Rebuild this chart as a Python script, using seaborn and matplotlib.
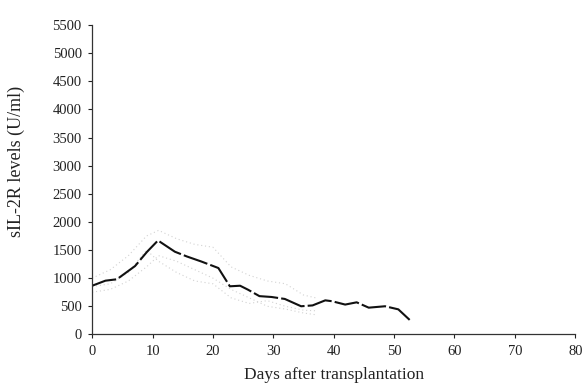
import pandas as pd
import matplotlib
matplotlib.use("Agg")
import matplotlib.pyplot as plt
import seaborn as sns

# media de sIL-2R (linea principal)
dias = [0, 2.2, 4.1, 7.1, 9.1, 10.9, 13.7, 15.7, 18.1, 20.9, 22.8, 24.5, 25.8, 27.7,
        29.7, 31.9, 34.6, 36.5, 38.6, 39.7, 41.9, 43.8, 45.8, 48.5, 50.7, 52.6]
media = [865, 955, 980, 1215, 1470, 1670, 1470, 1385, 1295, 1180, 855, 865, 795, 680,
         665, 630, 500, 515, 605, 590, 530, 570, 475, 500, 445, 255]

# valores individuales aproximados (nube gris tenue)
dias_ind = [0, 3, 6, 9, 11, 14, 17, 20, 23, 26, 29, 32, 35, 37]
paciente_a = [1000, 1150, 1400, 1750, 1850, 1700, 1600, 1550, 1200, 1050, 950, 900, 700, 650]
paciente_b = [750, 800, 950, 1200, 1400, 1300, 1150, 1000, 800, 650, 500, 450, 380, 350]
paciente_c = [850, 900, 1100, 1500, 1300, 1100, 950, 900, 650, 550, 600, 500, 430, 420]

df = pd.DataFrame({'dias': dias, 'media': media})
df_ind = pd.DataFrame({'dias': dias_ind, 'a': paciente_a, 'b': paciente_b, 'c': paciente_c})

sns.set_style("ticks")
plt.rcParams['font.family'] = ['Liberation Serif', 'DejaVu Serif']

fig = plt.figure(figsize=(5.87, 3.87), dpi=100)
ax = fig.add_axes([0.157, 0.136, 0.823, 0.799])

for col in ['a', 'b', 'c']:
    sns.lineplot(data=df_ind, x='dias', y=col, ax=ax, color='#d2d2d2',
                 linewidth=0.8, linestyle=(0, (1, 2.5)))

sns.lineplot(data=df, x='dias', y='media', ax=ax, color='#111111',
             linewidth=1.5, linestyle=(0, (12, 1.5)))

ax.set_xlim(0, 80)
ax.set_ylim(0, 5500)
ax.set_xticks(range(0, 81, 10))
ax.set_yticks(range(0, 5501, 500))
ax.tick_params(labelsize=10.5, length=3, width=0.8, pad=4.5, colors='#222222')
ax.set_xlabel('Days after transplantation', fontsize=12.5, color='#222222')
ax.set_ylabel('sIL-2R levels (U/ml)', fontsize=13, color='#222222')
ax.xaxis.set_label_coords(0.5, -0.105)
ax.yaxis.set_label_coords(-0.14, 0.56)
sns.despine(ax=ax)
for s in ['left', 'bottom']:
    ax.spines[s].set_linewidth(0.9)
    ax.spines[s].set_color('#333333')

fig.savefig('out.png', dpi=100)
